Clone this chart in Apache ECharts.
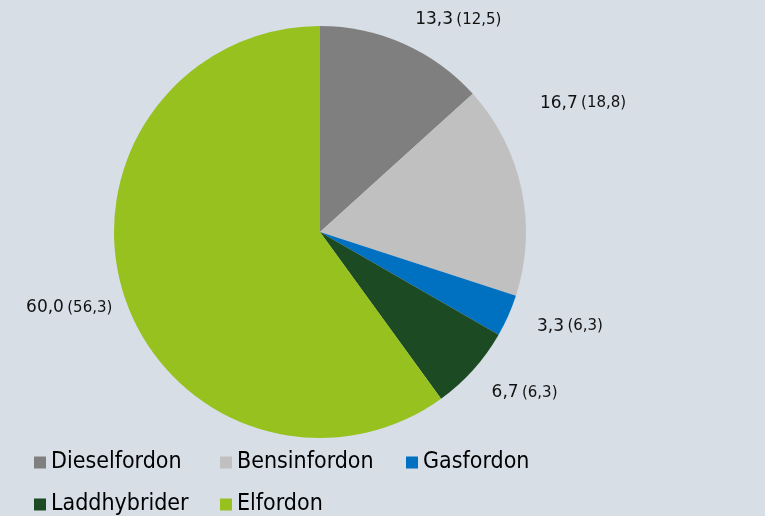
<!DOCTYPE html>
<html>
<head>
<meta charset="utf-8">
<script src="https://cdn.jsdelivr.net/npm/echarts@6/dist/echarts.min.js"></script>
<style>
  html, body { margin: 0; padding: 0; background: #d8dee6; }
  #chart { width: 765px; height: 516px; }
</style>
</head>
<body>
<div id="chart"></div>
<script>
const categories = ['Dieselfordon', 'Bensinfordon', 'Gasfordon', 'Laddhybrider', 'Elfordon'];
const shares = [13.3, 16.7, 3.3, 6.7, 60.0];
const previous = [12.5, 18.8, 6.3, 6.3, 56.3];
const colors = ['#7f7f7f', '#c0c0c0', '#0070c0', '#1c4a22', '#96c11f'];

const fmt = v => v.toFixed(1).replace('.', ',');

const chart = echarts.init(document.getElementById('chart'));
chart.setOption({
  backgroundColor: '#d8dee6',
  animation: false,
  color: colors,
  legend: {
    data: categories,
    left: 34,
    top: 450,
    width: 600,
    orient: 'horizontal',
    icon: 'rect',
    itemWidth: 12,
    itemHeight: 12,
    itemGap: 17,
    padding: 0,
    textStyle: {
      fontFamily: "'DejaVu Sans Condensed', 'DejaVu Sans', sans-serif",
      fontSize: 23,
      color: '#000',
      width: 152,
      lineHeight: 25
    }
  },
  series: [
    {
      type: 'pie',
      center: [320, 232],
      radius: 206,
      startAngle: 90,
      clockwise: true,
      avoidLabelOverlap: false,
      label: {
        show: true,
        position: 'outside',
        formatter: p => '{a|' + fmt(p.value) + '} {b|(' + fmt(previous[p.dataIndex]) + ')}',
        rich: {
          a: { fontFamily: 'DejaVu Sans', fontSize: 17, color: '#111' },
          b: { fontFamily: 'DejaVu Sans', fontSize: 15, color: '#111' }
        }
      },
      labelLine: { show: false, length: 26, length2: 0 },
      labelLayout: function (params) {
        if (params.dataIndex === 0) return { dx: -4 };
        if (params.dataIndex === 1) return { dy: -80, dx: -12 };
        if (params.dataIndex === 3) return { dy: 6, dx: -6 };
        if (params.dataIndex === 4) return { dx: 18, dy: 4 };
        return {};
      },
      itemStyle: { borderWidth: 0 },
      data: categories.map((c, i) => ({ name: c, value: shares[i] }))
    }
  ]
});
</script>
</body>
</html>
